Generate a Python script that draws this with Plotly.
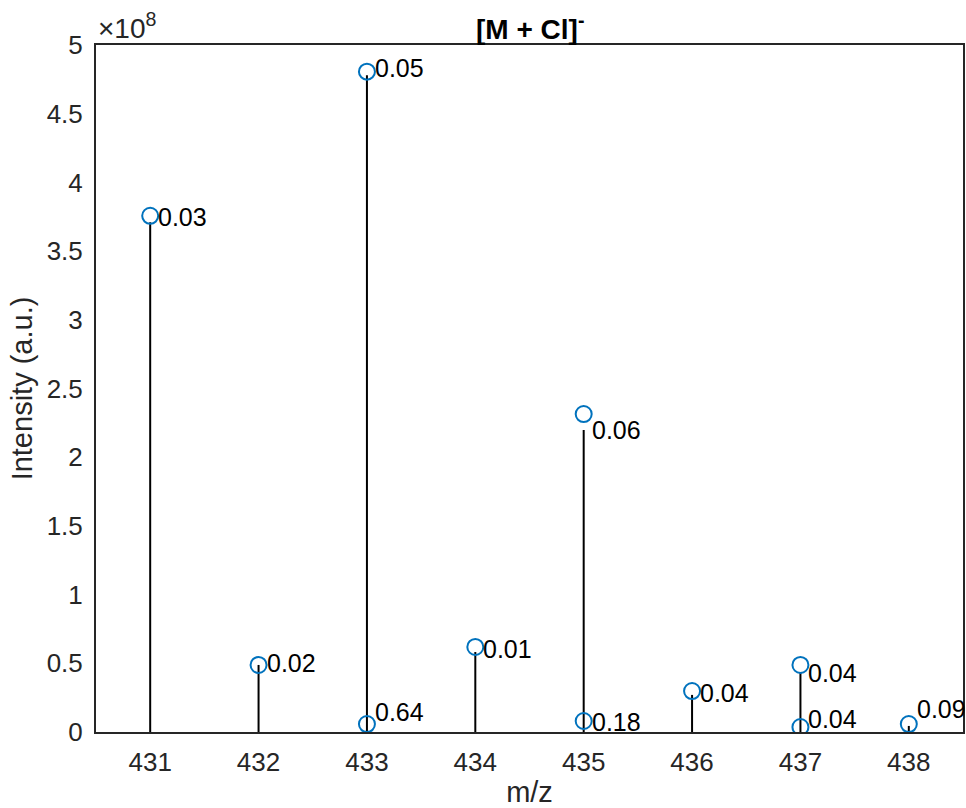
import plotly.graph_objects as go

# Measured peak intensities (stems), one per nominal m/z
stem_mz = [431, 432, 433, 434, 435, 436, 437, 438]
stem_int = [3.71e8, 0.488e8, 4.78e8, 0.582e8, 2.198e8, 0.27e8, 0.43e8, 0.044e8]

# Predicted isotope intensities (open circles)
iso_mz = [431, 432, 433, 433, 434, 435, 435, 436, 437, 437, 438]
iso_int = [3.757e8, 0.488e8, 4.806e8, 0.058e8, 0.619e8, 2.314e8, 0.08e8,
           0.298e8, 0.488e8, 0.036e8, 0.058e8]

# Peak annotations: anchor m/z, anchor intensity, text
lab_mz = [431, 432, 433, 433, 434, 435, 435, 436, 437, 437, 438]
lab_int = [3.75e8, 0.50e8, 4.83e8, 0.142e8, 0.606e8, 2.198e8, 0.073e8,
           0.284e8, 0.43e8, 0.095e8, 0.167e8]
lab_txt = ["0.03", "0.02", "0.05", "0.64", "0.01", "0.06", "0.18",
           "0.04", "0.04", "0.04", "0.09"]

y_ticks = [0, 0.5, 1, 1.5, 2, 2.5, 3, 3.5, 4, 4.5, 5]
x_ticks = [431, 432, 433, 434, 435, 436, 437, 438]

FONT = "Liberation Sans, Arial, Helvetica, sans-serif"
AXIS_GREY = "#262626"
BLUE = "#0072BD"

# build stem segments from baseline to each intensity
sx, sy = [], []
for m, v in zip(stem_mz, stem_int):
    sx += [m, m, None]
    sy += [0, v, None]

fig = go.Figure()
fig.add_trace(go.Scatter(x=sx, y=sy, mode="lines",
                         line=dict(color="black", width=2),
                         hoverinfo="skip", showlegend=False))
fig.add_trace(go.Scatter(x=iso_mz, y=iso_int, mode="markers",
                         marker=dict(symbol="circle-open", size=16,
                                     color=BLUE, line=dict(color=BLUE, width=2)),
                         showlegend=False))

for m, v, t in zip(lab_mz, lab_int, lab_txt):
    fig.add_annotation(x=m, y=v, text=t, showarrow=False,
                       xanchor="left", yanchor="middle", xshift=6,
                       font=dict(family=FONT, size=25, color="black"))

# exponent marker above the y axis
fig.add_annotation(xref="paper", yref="paper", x=0, y=1, xanchor="left",
                   yanchor="bottom", yshift=-1, showarrow=False,
                   text="×10<sup>8</sup>",
                   font=dict(family=FONT, size=28, color=AXIS_GREY))

# title
fig.add_annotation(xref="paper", yref="paper", x=0.5, y=1, xanchor="center",
                   yanchor="bottom", yshift=-2, showarrow=False,
                   text="<b>[M + Cl]<sup>-</sup></b>",
                   font=dict(family=FONT, size=28, color="black"))

fig.update_layout(
    width=966, height=808,
    margin=dict(l=96, r=3, t=45, b=76),
    paper_bgcolor="white", plot_bgcolor="white",
    font=dict(family=FONT, color=AXIS_GREY),
)
fig.update_xaxes(
    range=[430.5, 438.5], tickvals=x_ticks, ticktext=[str(v) for v in x_ticks],
    showgrid=False, zeroline=False, showline=True, mirror=True,
    linecolor=AXIS_GREY, linewidth=2, ticks="",
    tickfont=dict(family=FONT, size=26, color=AXIS_GREY),
    ticklabelstandoff=6,
    title=dict(text="m/z", font=dict(family=FONT, size=29, color=AXIS_GREY),
               standoff=8),
    automargin=False,
)
fig.update_yaxes(
    range=[0, 5e8], tickvals=[v * 1e8 for v in y_ticks],
    ticktext=[f"{v:g}" for v in y_ticks],
    showgrid=False, zeroline=False, showline=True, mirror=True,
    linecolor=AXIS_GREY, linewidth=2, ticks="",
    tickfont=dict(family=FONT, size=26, color=AXIS_GREY),
    ticklabelstandoff=6,
    title=dict(text="Intensity (a.u.)", font=dict(family=FONT, size=29, color=AXIS_GREY),
               standoff=5),
    automargin=False,
)

fig.write_html("out.html")
